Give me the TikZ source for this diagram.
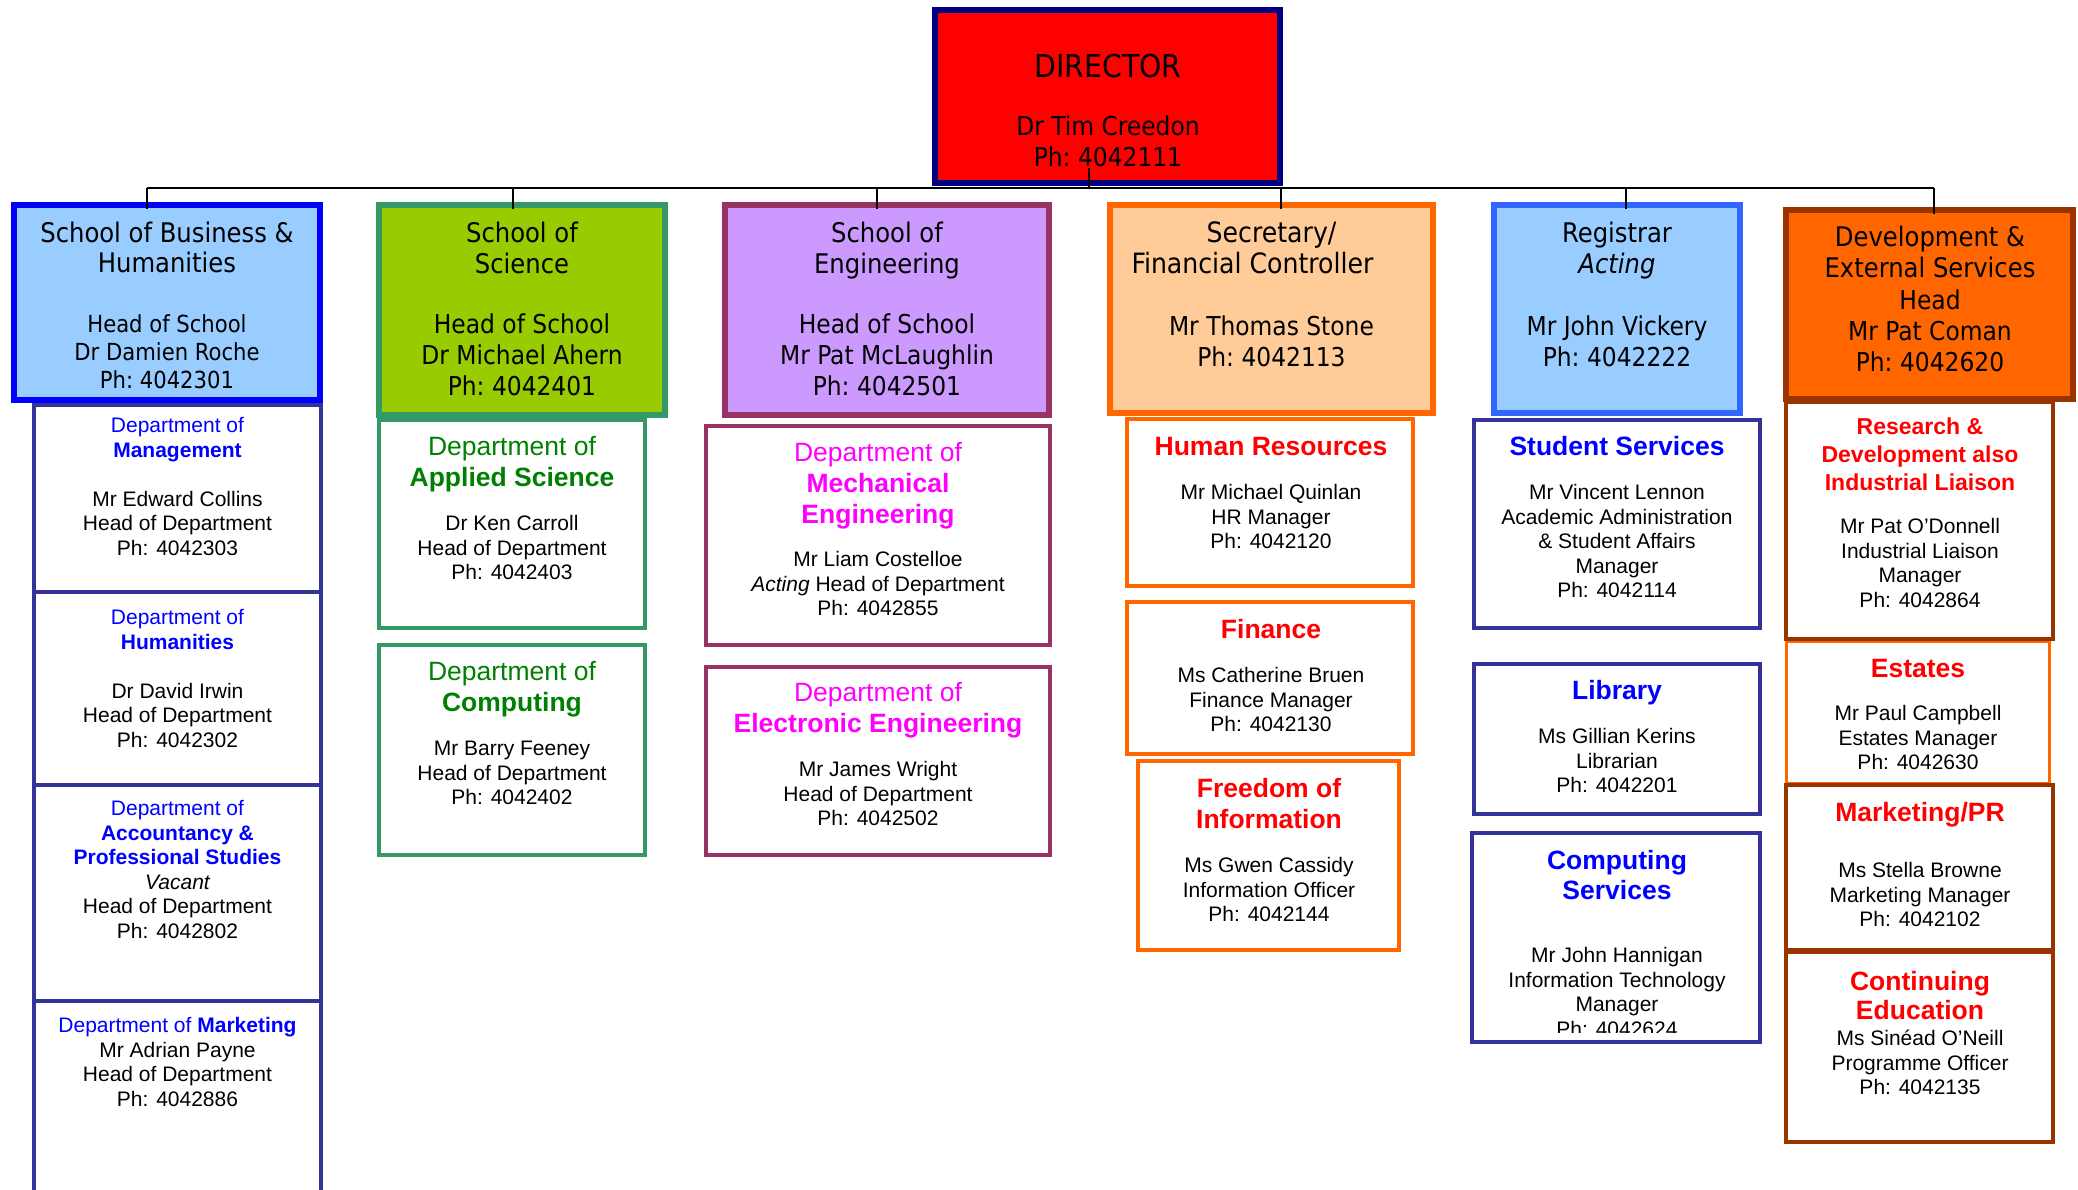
\documentclass[tikz,border=0pt]{standalone}
\usepackage{fontspec}
\setmainfont{Liberation Sans}
\newfontfamily\tah{DejaVu Sans Condensed}
\newfontfamily\arl{Liberation Sans}
\definecolor{cnavy}{HTML}{000080}
\definecolor{cred}{HTML}{FF0000}
\definecolor{cblue}{HTML}{0000FF}
\definecolor{cltblue}{HTML}{99CCFF}
\definecolor{cgreenfill}{HTML}{99CC00}
\definecolor{cseagreen}{HTML}{339966}
\definecolor{cviolet}{HTML}{CC99FF}
\definecolor{cplum}{HTML}{993366}
\definecolor{corange}{HTML}{FF6600}
\definecolor{ctan}{HTML}{FFCC99}
\definecolor{cmidblue}{HTML}{3366FF}
\definecolor{cbrown}{HTML}{993300}
\definecolor{cindigo}{HTML}{333399}
\definecolor{tgreen}{HTML}{008000}
\definecolor{tmag}{HTML}{FF00FF}
\newcommand\nols{\setlength{\lineskiplimit}{-100pt}}
\newcommand\bxat[6]{\node[#6, minimum width={(#4)-(#2)}, minimum height={(#5)-(#3)}] (#1) at ({((#2)+(#4))/2},{((#3)+(#5))/2}) {};}
\newcommand\txat[5]{\node[tx,#4] (#1) at (#2,#3) {\rule{0pt}{20pt}#5};}
\newcommand\bigt{\fontsize{26.5}{24.5}\selectfont}
\newcommand\ttl{\fontsize{27}{28}\selectfont}
\newcommand\fdepf{\arl\fontsize{21}{24.5}\selectfont\nols}
\newcommand\fschf[1]{\tah\fontsize{26}{#1}\selectfont\nols}
\tikzset{
  bx/.style={draw, inner sep=0pt, outer sep=0pt},
  sch/.style={bx, line width=5.5pt},
  dep/.style={bx, line width=4pt, fill=white},
  tx/.style={anchor=north, inner sep=0pt, outer sep=0pt, align=center},
  fdep/.style={font=\fdepf},
  fsch/.style={font={\fschf{#1}}},
  busline/.style={line width=2.5pt, black},
  conn/.style={line width=1.5pt, black},
}
\begin{document}
\begin{tikzpicture}[x=1pt,y=-1pt]
\path[use as bounding box, fill=white] (0,0) rectangle (2078,1189);

% ---------- Director ----------
\bxat{dir}{935}{10}{1280}{183}{bx, line width=6pt, draw=cnavy, fill=cred}
\txat{dirt}{1108}{53.8}{fsch=31}{{\fontsize{31.5}{31}\selectfont DIRECTOR}\\[27.6pt] Dr Tim Creedon\\ Ph:~4042111}

% ---------- Schools ----------
\bxat{sbh}{14}{205}{320}{400}{sch, line width=6pt, draw=cblue, fill=cltblue}
\bxat{ssc}{379}{205}{665}{415}{sch, draw=cseagreen, fill=cgreenfill}
\bxat{sen}{725}{205}{1049}{415}{sch, draw=cplum, fill=cviolet}
\bxat{ssec}{1110}{205}{1433}{413}{sch, draw=corange, fill=ctan}
\bxat{sreg}{1494}{205}{1740}{413}{sch, draw=cmidblue, fill=cltblue}
\bxat{sdev}{1786}{210}{2073}{399}{sch, draw=cbrown, fill=corange}

\node[tx, font={\tah\fontsize{23.5}{28}\selectfont\nols}] (sbht) at (167,221.7)
  {\rule{0pt}{20pt}{\ttl School of Business \&}\\[2pt] {\ttl Humanities}\\[31.8pt] Head of School\\ Dr Damien Roche\\ Ph:~4042301};
\txat{ssct}{522}{221.7}{fsch=31}{{\ttl School of}\\ {\ttl Science}\\[29.7pt] Head of School\\ Dr Michael Ahern\\ Ph:~4042401}
\txat{sent}{887}{221.7}{fsch=31}{{\ttl School of}\\ {\ttl Engineering}\\[29.7pt] Head of School\\ Mr Pat McLaughlin\\ Ph:~4042501}
\txat{ssect}{1271.5}{221.7}{fsch=31.5}{{\fontsize{28}{28}\selectfont Secretary/}\\ {\fontsize{28}{28}\selectfont Financial Controller\hbox to 38pt{}}\\[30pt] Mr Thomas Stone\\ Ph:~4042113}
\txat{sregt}{1617}{221.7}{fsch=31.5}{{\ttl Registrar}\\ {\ttl\itshape Acting}\\[30pt] Mr John Vickery\\ Ph:~4042222}
\txat{sdevt}{1930}{225.7}{fsch=31.4}{{\ttl Development \&}\\ {\ttl External Services}\\ Head\\ Mr Pat Coman\\ Ph:~4042620}

% ---------- Business departments ----------
\bxat{dmg}{34}{405}{321}{592}{dep, draw=cindigo}
\bxat{dhu}{34}{592}{321}{785}{dep, draw=cindigo}
\bxat{dac}{34}{785}{321}{1001}{dep, draw=cindigo}
\bxat{dmk}{34}{1001}{321}{1220}{dep, draw=cindigo}
\txat{dmgt}{177.5}{412.6}{fdep}{\textcolor{cblue}{Department of}\\ \textcolor{cblue}{\bfseries Management}\\[24.5pt] Mr Edward Collins\\ Head of Department\\ Ph: 4042303}
\txat{dhut}{177.5}{604.6}{fdep}{\textcolor{cblue}{Department of}\\ \textcolor{cblue}{\bfseries Humanities}\\[24.5pt] Dr David Irwin\\ Head of Department\\ Ph: 4042302}
\txat{dact}{177.5}{795.6}{fdep}{\textcolor{cblue}{Department of}\\ \textcolor{cblue}{\bfseries Accountancy \&}\\ \textcolor{cblue}{\bfseries Professional Studies}\\ \itshape Vacant\\ Head of Department\\ Ph: 4042802}
\txat{dmkt}{177.5}{1012.6}{fdep}{\textcolor{cblue}{Department of \textbf{Marketing}}\\ Mr Adrian Payne\\ Head of Department\\ Ph: 4042886}

% ---------- Science departments ----------
\bxat{das}{379}{420}{645}{628}{dep, draw=cseagreen}
\bxat{dco}{379}{645}{645}{855}{dep, draw=cseagreen}
\txat{dast}{512}{435.5}{fdep}{\textcolor{tgreen}{\bigt Department of}\\[6.5pt] \textcolor{tgreen}{\bigt\bfseries Applied Science}\\[19.6pt] Dr Ken Carroll\\ Head of Department\\ Ph: 4042403}
\txat{dcot}{512}{660.5}{fdep}{\textcolor{tgreen}{\bigt Department of}\\[6.5pt] \textcolor{tgreen}{\bigt\bfseries Computing}\\[19.6pt] Mr Barry Feeney\\ Head of Department\\ Ph: 4042402}

% ---------- Engineering departments ----------
\bxat{dme}{706}{426}{1050}{645}{dep, draw=cplum}
\bxat{del}{706}{667}{1050}{855}{dep, draw=cplum}
\txat{dmet}{878}{441.5}{fdep}{\textcolor{tmag}{\bigt Department of}\\[6.5pt] \textcolor{tmag}{\bigt\bfseries Mechanical}\\[6.5pt] \textcolor{tmag}{\bigt\bfseries Engineering}\\[18.6pt] Mr Liam Costelloe\\ \textit{Acting} Head of Department\\ Ph: 4042855}
\txat{delt}{878}{681.5}{fdep}{\textcolor{tmag}{\bigt Department of}\\[6.5pt] \textcolor{tmag}{\bigt\bfseries Electronic Engineering}\\[19.6pt] Mr James Wright\\ Head of Department\\ Ph: 4042502}

% ---------- Secretary sections ----------
\bxat{dhr}{1127}{419}{1413}{586}{dep, draw=corange}
\bxat{dfi}{1127}{602}{1413}{754}{dep, draw=corange}
\bxat{dfo}{1138}{761}{1399}{950}{dep, draw=corange}
\txat{dhrt}{1271}{435.5}{fdep}{\textcolor{cred}{\bigt\bfseries Human Resources}\\[19.6pt] Mr Michael Quinlan\\ HR Manager\\ Ph: 4042120}
\txat{dfit}{1271}{618.5}{fdep}{\textcolor{cred}{\bigt\bfseries Finance}\\[19.6pt] Ms Catherine Bruen\\ Finance Manager\\ Ph: 4042130}
\txat{dfot}{1269}{777.5}{fdep}{\textcolor{cred}{\bigt\bfseries Freedom of}\\[6.5pt] \textcolor{cred}{\bigt\bfseries Information}\\[19.6pt] Ms Gwen Cassidy\\ Information Officer\\ Ph: 4042144}

% ---------- Registrar sections ----------
\bxat{dss}{1474}{420}{1760}{628}{dep, draw=cindigo}
\bxat{dli}{1474}{664}{1760}{814}{dep, draw=cindigo}
\bxat{dcs}{1472}{833}{1760}{1042}{dep, draw=cindigo}
\txat{dsst}{1617}{435.5}{fdep}{\textcolor{cblue}{\bigt\bfseries Student Services}\\[19.6pt] Mr Vincent Lennon\\ Academic Administration\\ \& Student Affairs\\ Manager\\ Ph: 4042114}
\txat{dlit}{1617}{679.5}{fdep}{\textcolor{cblue}{\bigt\bfseries Library}\\[19.6pt] Ms Gillian Kerins\\ Librarian\\ Ph: 4042201}
\begin{scope}
\clip (1476,840) rectangle (1758,1032);
\txat{dcst}{1617}{849.5}{fdep}{\textcolor{cblue}{\bigt\bfseries Computing}\\[5.5pt] \textcolor{cblue}{\bigt\bfseries Services}\\[38.6pt] Mr John Hannigan\\ Information Technology\\ Manager\\ Ph: 4042624}
\end{scope}

% ---------- Development sections ----------
\bxat{des}{1786}{641}{2049}{783}{dep, line width=3pt, draw=corange}
\bxat{drd}{1786}{402}{2053}{639}{dep, draw=cbrown}
\bxat{dmp}{1786}{785}{2053}{950}{dep, draw=cbrown}
\bxat{dce}{1786}{952}{2053}{1142}{dep, draw=cbrown}
\txat{drdt}{1920}{414.3}{fdep}{\textcolor{cred}{\fontsize{23}{24.5}\selectfont\bfseries Research \&}\\[3.5pt] \textcolor{cred}{\fontsize{23}{24.5}\selectfont\bfseries Development also}\\[3.5pt] \textcolor{cred}{\fontsize{23}{24.5}\selectfont\bfseries Industrial Liaison}\\[18.8pt] Mr Pat O’Donnell\\ Industrial Liaison\\ Manager\\ Ph: 4042864}
\txat{dest}{1918}{657.5}{fdep}{\textcolor{cred}{\bigt\bfseries Estates}\\[18.6pt] Mr Paul Campbell\\ Estates Manager\\ Ph: 4042630}
\txat{dmpt}{1920}{801.5}{fdep}{\textcolor{cred}{\bigt\bfseries Marketing/PR}\\[31.6pt] Ms Stella Browne\\ Marketing Manager\\ Ph: 4042102}
\txat{dcet}{1920}{970.5}{fdep}{\textcolor{cred}{\bigt\bfseries Continuing}\\[4.5pt] \textcolor{cred}{\bigt\bfseries Education}\\[1.6pt] Ms Sinéad O’Neill\\ Programme Officer\\ Ph: 4042135}

% ---------- Connectors ----------
\coordinate (busL) at (147,188);
\coordinate (busR) at (1934,188);
\coordinate (dirstub) at (1089,168);
\draw[busline] (busL) -- (busR);
\draw[conn] (dirstub) -- (dirstub |- busL);
\foreach \n/\x in {sbh/147, ssc/513, sen/877, ssec/1281, sreg/1626, sdev/1934}{
  \coordinate (t\n) at (\x,188);
  \draw[conn] (t\n) -- (t\n |- \n.north) -- ++(0,4);
}
\end{tikzpicture}
\end{document}
